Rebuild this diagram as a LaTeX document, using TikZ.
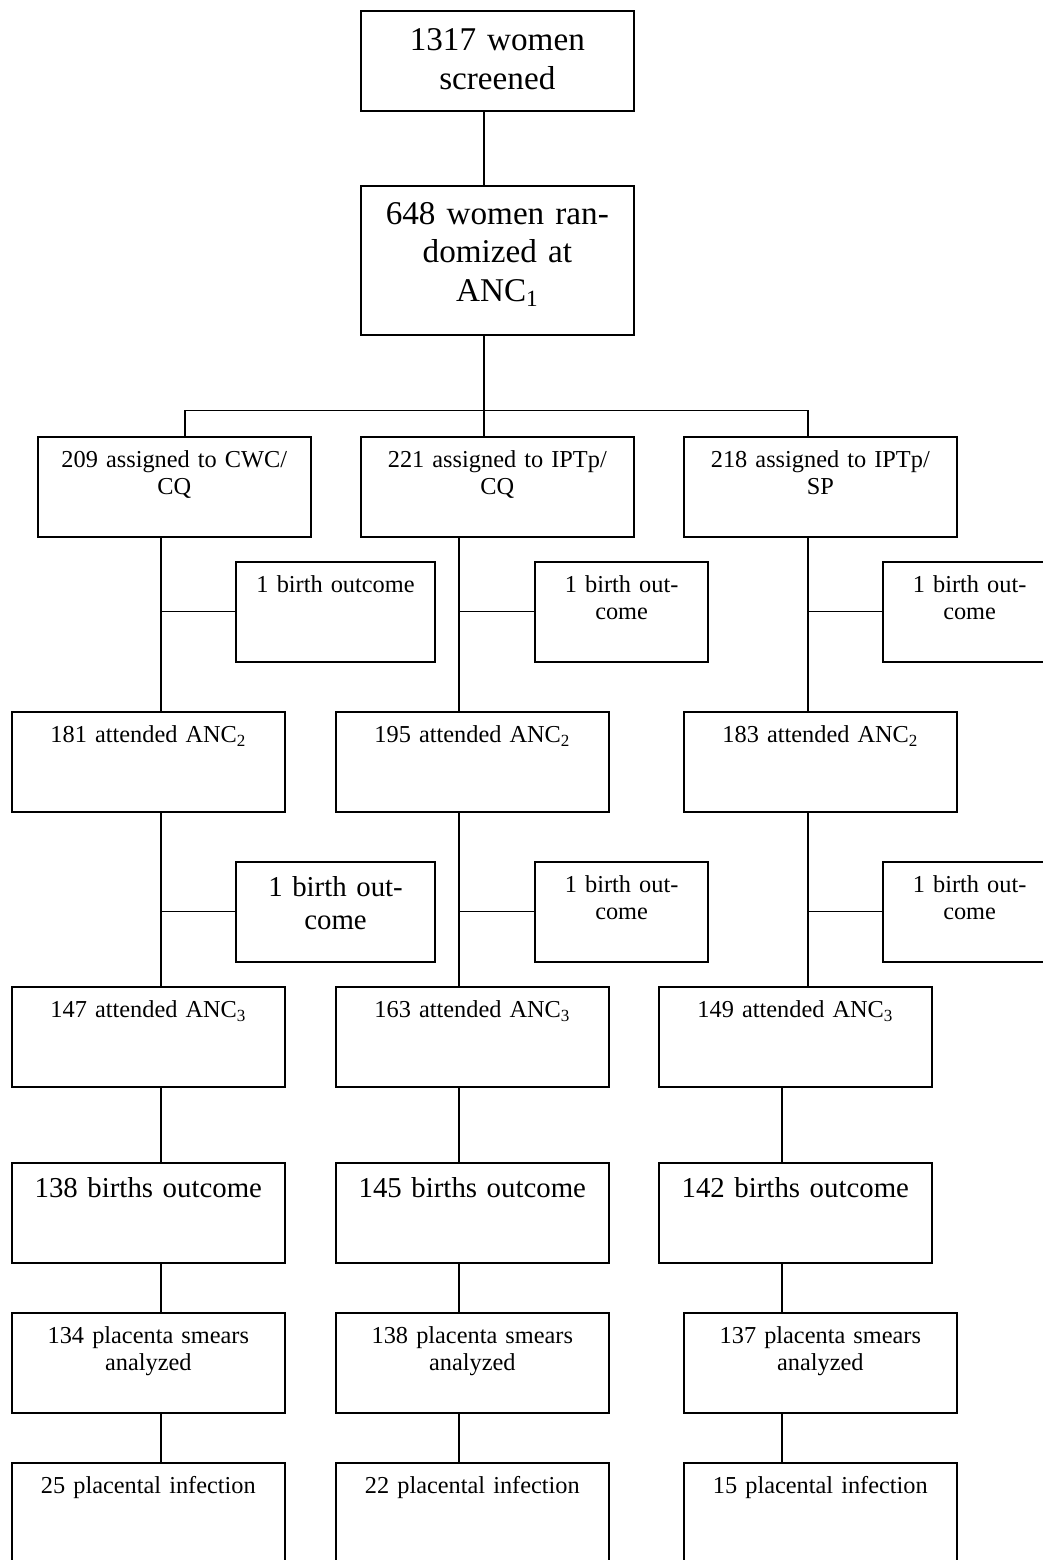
\documentclass[tikz,border=0pt]{standalone}
\usepackage{fontspec}
\setmainfont{Liberation Serif}
\usepackage{tikz}

\begin{document}
\begin{tikzpicture}[x=0.025cm,y=-0.025cm,
	cell/.style={draw,line width=1.3pt,anchor=north west,inner sep=0pt,align=center,text width=194pt},
	narrow/.style={cell,text width=141.7pt},
	slim/.style={cell,text width=123.3pt},
	smalltxt/.style={font=\fontsize{17.3}{19.4}\selectfont,text height=21.8pt,text depth=49.1pt},
	midtxt/.style={font=\fontsize{20.5}{23.4}\selectfont,text height=24.7pt,text depth=46.2pt},
	bigtxt/.style={font=\fontsize{23.6}{27.4}\selectfont,text height=28.3pt,text depth=42.6pt},
	link/.style={line width=0.9pt}]

\clip (0,0) rectangle (1043,1560);
\fill[white] (0,0) rectangle (1043,1560);

% screening and randomization
\node[cell,bigtxt] (top) at (360,10) {1317 women\\screened};
\node[cell,bigtxt,text height=27.1pt,text depth=79.2pt] (rand) at (360,185) {648 women ran-\\domized at\\ANC\textsubscript{1}};

% arms
\node[cell,smalltxt] (a1) at (37,436) {209 assigned to CWC/\\CQ};
\node[cell,smalltxt] (b1) at (360,436) {221 assigned to IPTp/\\CQ};
\node[cell,smalltxt] (c1) at (683,436) {218 assigned to IPTp/\\SP};

\node[narrow,smalltxt] (ea1) at (235,561) {1 birth outcome};
\node[slim,smalltxt] (eb1) at (534,561) {1 birth out-\\come};
\node[slim,smalltxt] (ec1) at (882,561) {1 birth out-\\come};

\node[cell,smalltxt] (a2) at (11,711) {181 attended ANC\textsubscript{2}};
\node[cell,smalltxt] (b2) at (335,711) {195 attended ANC\textsubscript{2}};
\node[cell,smalltxt] (c2) at (683,711) {183 attended ANC\textsubscript{2}};

\node[narrow,midtxt] (ea2) at (235,861) {1 birth out-\\come};
\node[slim,smalltxt] (eb2) at (534,861) {1 birth out-\\come};
\node[slim,smalltxt] (ec2) at (882,861) {1 birth out-\\come};

\node[cell,smalltxt] (a3) at (11,986) {147 attended ANC\textsubscript{3}};
\node[cell,smalltxt] (b3) at (335,986) {163 attended ANC\textsubscript{3}};
\node[cell,smalltxt] (c3) at (658,986) {149 attended ANC\textsubscript{3}};

\node[cell,midtxt] (a4) at (11,1162) {138 births outcome};
\node[cell,midtxt] (b4) at (335,1162) {145 births outcome};
\node[cell,midtxt] (c4) at (658,1162) {142 births outcome};

\node[cell,smalltxt] (a5) at (11,1312) {134 placenta smears\\analyzed};
\node[cell,smalltxt] (b5) at (335,1312) {138 placenta smears\\analyzed};
\node[cell,smalltxt] (c5) at (683,1312) {137 placenta smears\\analyzed};

\node[cell,smalltxt] (a6) at (11,1462) {25 placental infection};
\node[cell,smalltxt] (b6) at (335,1462) {22 placental infection};
\node[cell,smalltxt] (c6) at (683,1462) {15 placental infection};

% spines
\coordinate (j0) at (484,410.7);
\coordinate (barL) at (185,410.7);
\coordinate (barR) at (808,410.7);
\coordinate (sa) at (161,0);
\coordinate (sb) at (459,0);
\coordinate (sc) at (808,0);
\coordinate (sd) at (782,0);

\draw[link] (top.south -| j0) -- (rand.north -| j0);
\draw[link] (rand.south -| j0) -- (b1.north -| j0);
\draw[link] (a1.north -| barL) -- (barL) -- (barR) -- (c1.north -| barR);

\foreach \u/\v/\k in {a1/a2/sa,a2/a3/sa,a3/a4/sa,a4/a5/sa,a5/a6/sa,
	b1/b2/sb,b2/b3/sb,b3/b4/sb,b4/b5/sb,b5/b6/sb,
	c1/c2/sc,c2/c3/sc,c3/c4/sd,c4/c5/sd,c5/c6/sd}
	{
		\draw[link] (\u.south -| \k) -- (\v.north -| \k);
	}

\foreach \s/\k in {ea1/sa,ea2/sa,eb1/sb,eb2/sb,ec1/sc,ec2/sc}
	\draw[link] (\s.west) -- (\s.west -| \k);

\end{tikzpicture}
\end{document}
